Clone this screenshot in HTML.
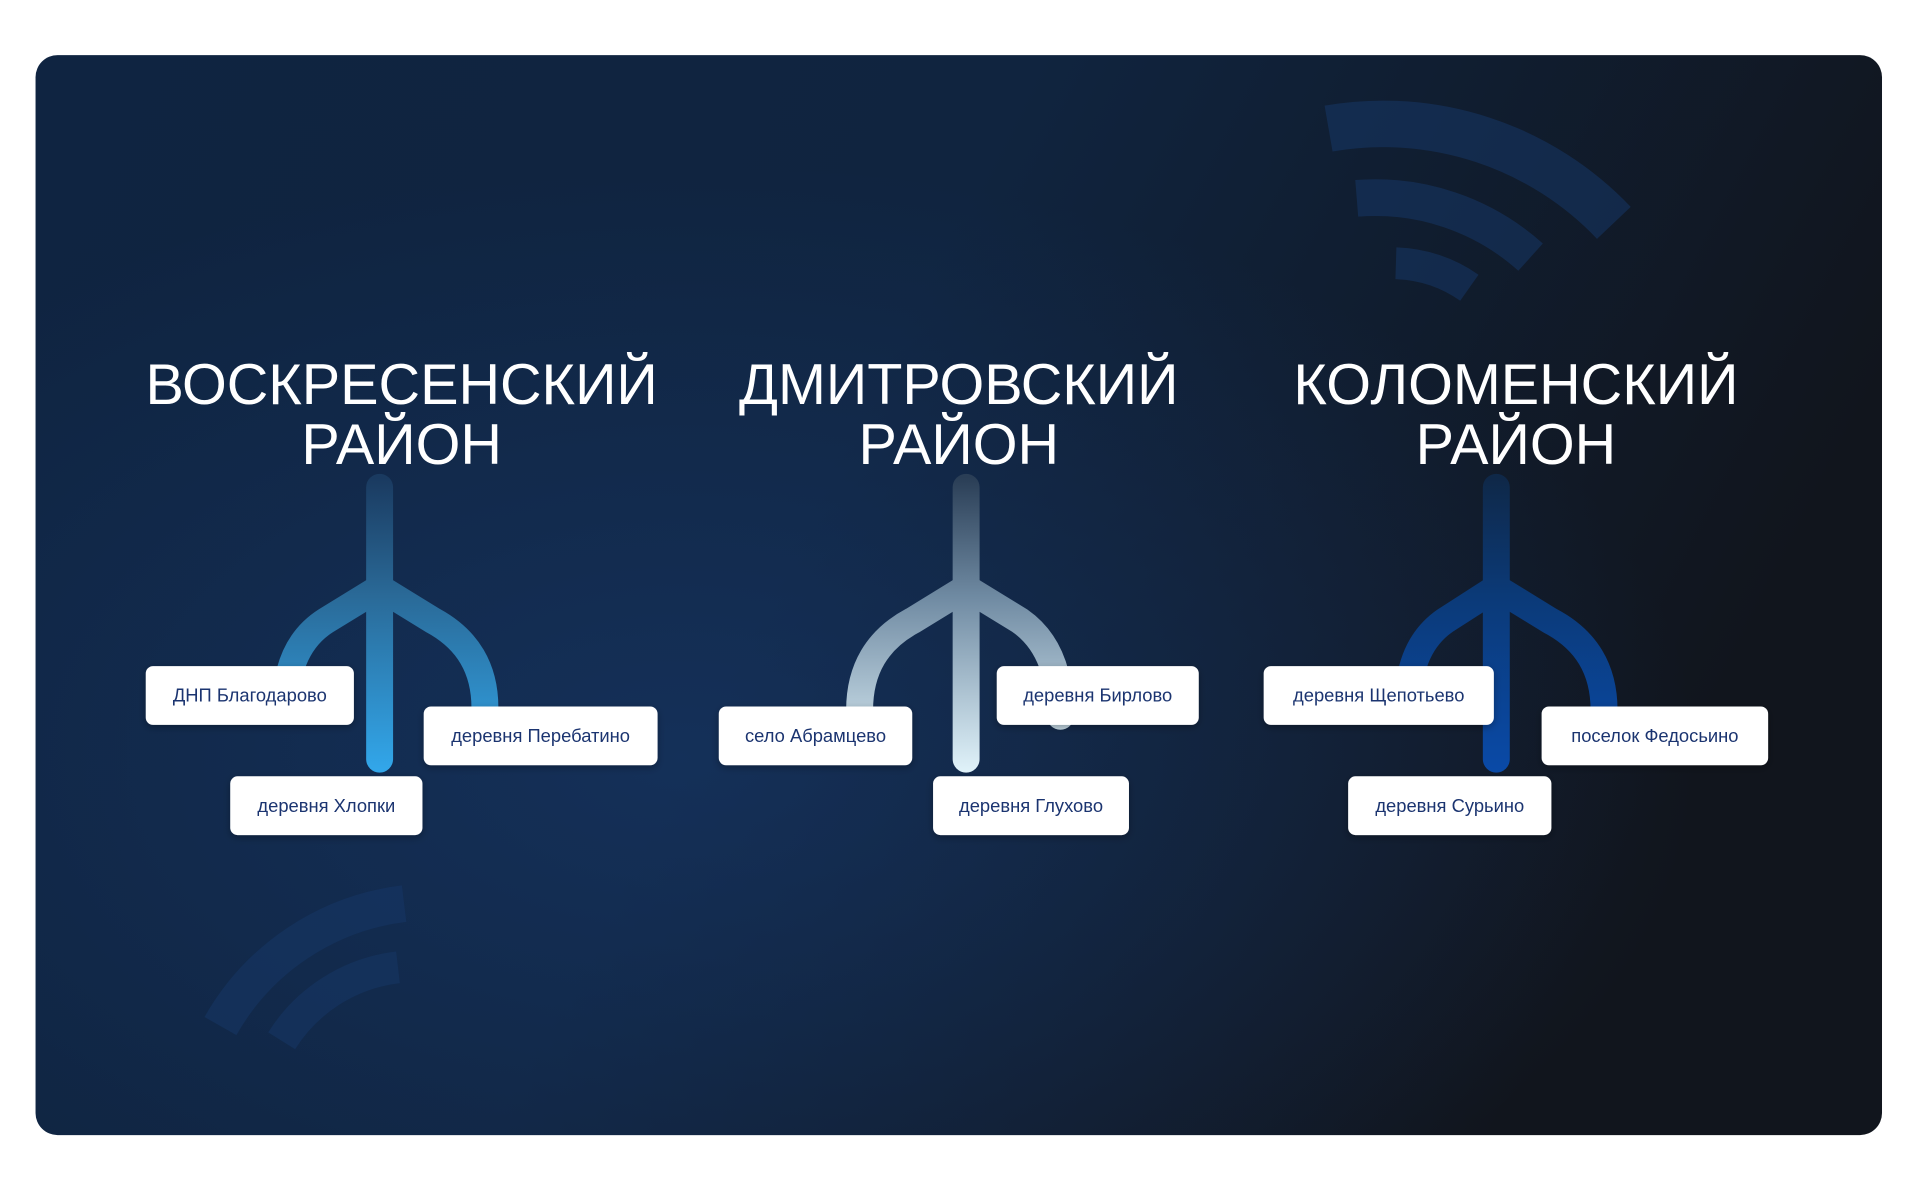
<!DOCTYPE html>
<html><head><meta charset="utf-8"><style>
html,body{margin:0;padding:0;background:#fff;width:1920px;height:1192px;overflow:hidden}
svg{display:block}
text{font-family:"Liberation Sans",sans-serif}
</style></head><body>
<svg width="1920" height="1192" viewBox="0 0 1568 973.5" xmlns="http://www.w3.org/2000/svg">
<defs>
<linearGradient id="bg" x1="0" y1="0" x2="1" y2="0.3">
<stop offset="0" stop-color="#0f2441"/><stop offset="0.5" stop-color="#10243f"/><stop offset="1" stop-color="#11151d"/>
</linearGradient>
<radialGradient id="bg2" cx="0.35" cy="0.65" r="0.55">
<stop offset="0" stop-color="#17386a" stop-opacity="0.6"/><stop offset="1" stop-color="#17386a" stop-opacity="0"/>
</radialGradient>
<linearGradient id="g1" x1="0" y1="390" x2="0" y2="633" gradientUnits="userSpaceOnUse">
<stop offset="0" stop-color="#1a3a60"/><stop offset="0.4" stop-color="#2a6a98"/><stop offset="1" stop-color="#32a8ec"/></linearGradient>
<linearGradient id="g2" x1="0" y1="390" x2="0" y2="633" gradientUnits="userSpaceOnUse">
<stop offset="0" stop-color="#2a3e56"/><stop offset="0.4" stop-color="#6f8aa2"/><stop offset="1" stop-color="#e2f4fb"/></linearGradient>
<linearGradient id="g3" x1="0" y1="390" x2="0" y2="633" gradientUnits="userSpaceOnUse">
<stop offset="0" stop-color="#0f2848"/><stop offset="0.4" stop-color="#0b3a78"/><stop offset="1" stop-color="#0a4aa8"/></linearGradient>
<filter id="sh"><feDropShadow dx="0" dy="2" stdDeviation="3" flood-opacity="0.3"/></filter>
</defs>
<rect x="29" y="45" width="1508" height="882" rx="18" fill="url(#bg)"/>
<rect x="29" y="45" width="1508" height="882" rx="18" fill="url(#bg2)"/>
<!-- faded wifi icons -->
<g fill="none" stroke="#163766" stroke-opacity="0.55">
<path d="M1085,105 A260,260 0 0 1 1318,182" stroke-width="38"/>
<path d="M1108,162 A190,190 0 0 1 1250,210" stroke-width="30"/>
<path d="M1140,215 A110,110 0 0 1 1200,235" stroke-width="26"/>
<path d="M330,738 A200,200 0 0 0 180,838" stroke-width="30"/>
<path d="M325,790 A130,130 0 0 0 230,850" stroke-width="26"/>
</g>
<!-- titles -->
<g fill="#fff" font-size="47" text-anchor="middle">
<text x="328" y="330">ВОСКРЕСЕНСКИЙ</text><text x="328" y="379">РАЙОН</text>
<text x="783" y="330">ДМИТРОВСКИЙ</text><text x="783" y="379">РАЙОН</text>
<text x="1238" y="330">КОЛОМЕНСКИЙ</text><text x="1238" y="379">РАЙОН</text>
</g>
<!-- trees -->
<g fill="none" stroke-width="22" stroke-linecap="round">
<g stroke="url(#g1)">
<path d="M310,398 V620"/>
<path d="M310,480 L266,507 Q233,528 233,580"/>
<path d="M310,480 L354,507 Q396,530 396,578"/>
</g>
<g stroke="url(#g2)">
<path d="M789,398 V620"/>
<path d="M789,480 L745,507 Q702,530 702,580"/>
<path d="M789,480 L833,507 Q866,530 866,585"/>
</g>
<g stroke="url(#g3)">
<path d="M1222,398 V620"/>
<path d="M1222,480 L1180,507 Q1150,528 1150,575"/>
<path d="M1222,480 L1266,507 Q1310,530 1310,580"/>
</g>
</g>
<!-- cards -->
<g filter="url(#sh)" fill="#fff">
<rect x="119" y="544" width="170" height="48" rx="6"/>
<rect x="346" y="577" width="191" height="48" rx="6"/>
<rect x="188" y="634" width="157" height="48" rx="6"/>
<rect x="587" y="577" width="158" height="48" rx="6"/>
<rect x="814" y="544" width="165" height="48" rx="6"/>
<rect x="762" y="634" width="160" height="48" rx="6"/>
<rect x="1032" y="544" width="188" height="48" rx="6"/>
<rect x="1259" y="577" width="185" height="48" rx="6"/>
<rect x="1101" y="634" width="166" height="48" rx="6"/>
</g>
<g fill="#1b3470" font-size="15" text-anchor="middle">
<text x="204" y="573">ДНП Благодарово</text>
<text x="441.5" y="606">деревня Перебатино</text>
<text x="266.5" y="663">деревня Хлопки</text>
<text x="666" y="606">село Абрамцево</text>
<text x="896.5" y="573">деревня Бирлово</text>
<text x="842" y="663">деревня Глухово</text>
<text x="1126" y="573">деревня Щепотьево</text>
<text x="1351.5" y="606">поселок Федосьино</text>
<text x="1184" y="663">деревня Сурьино</text>
</g>
</svg>
</body></html>
